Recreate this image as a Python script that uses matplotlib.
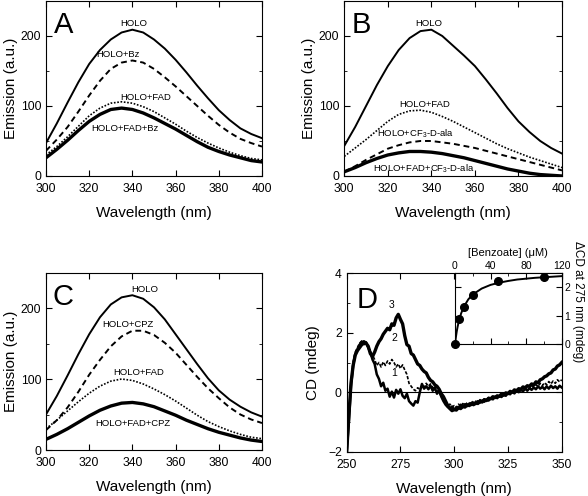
import numpy as np
import matplotlib
matplotlib.use("Agg")
from matplotlib import pyplot as plt
from matplotlib.ticker import MultipleLocator

plt.rcParams['font.family'] = ['Liberation Sans', 'DejaVu Sans']
plt.rcParams['mathtext.default'] = 'regular'

# emission spectra, wavelength 300..400 every 5 nm
wl = list(range(300, 405, 5))

a_holo = [47, 75, 105, 134, 160, 180, 195, 205, 209, 205, 195, 182, 166, 148, 129, 111, 94, 80, 68, 60, 54]
a_bz = [36, 52, 70, 92, 115, 136, 153, 162, 165, 162, 153, 141, 128, 114, 100, 86, 73, 62, 53, 47, 42]
a_fad = [30, 42, 56, 71, 86, 97, 104, 106, 104, 99, 92, 83, 74, 64, 55, 47, 40, 34, 29, 25, 23]
a_fad_bz = [26, 38, 51, 65, 78, 88, 95, 97, 95, 90, 83, 75, 67, 58, 49, 41, 35, 30, 26, 22, 20]

b_holo = [43, 70, 100, 130, 157, 180, 197, 207, 209, 200, 186, 172, 157, 138, 118, 97, 78, 63, 50, 40, 32]
b_fad = [28, 40, 52, 65, 78, 88, 93, 94, 91, 85, 78, 70, 62, 54, 46, 39, 33, 27, 22, 17, 12]
b_cf3 = [6, 14, 23, 31, 39, 44, 48, 50, 50, 48, 46, 43, 40, 36, 32, 28, 24, 20, 16, 12, 8]
b_fad_cf3 = [6, 12, 19, 25, 30, 33, 35, 35, 34, 32, 29, 26, 22, 18, 14, 10, 7, 4, 2, 1, 0]

c_holo = [50, 76, 105, 135, 163, 187, 205, 215, 218, 213, 201, 184, 163, 142, 121, 101, 84, 71, 61, 53, 47]
c_cpz = [28, 42, 60, 82, 106, 127, 146, 160, 168, 168, 162, 151, 137, 120, 103, 87, 73, 60, 50, 43, 38]
c_fad = [30, 42, 55, 68, 80, 90, 97, 100, 98, 93, 86, 78, 69, 59, 49, 40, 33, 27, 22, 18, 16]
c_fad_cpz = [15, 22, 30, 39, 48, 56, 62, 66, 67, 65, 61, 55, 49, 42, 36, 30, 25, 21, 17, 14, 12]

# CD spectra, 250..350 every 1 nm
cd_wl = list(range(250, 351))
cd1 = [-2.0, -1.0, 0.2, 0.9, 1.3, 1.45, 1.6, 1.7, 1.62, 1.68,
       1.5, 1.35, 1.1, 0.95, 0.6, 0.45, 0.2, 0.32, 0.05, 0.12,
       -0.15, 0.02, -0.18, 0.08, -0.05, 0.1, -0.12, -0.2, -0.05, -0.3,
       -0.38, -0.45, -0.3, -0.35, 0.0, 0.28, 0.12, 0.2, 0.1, 0.22,
       0.05, 0.15, -0.05, 0.05, -0.15, -0.3, -0.42, -0.5, -0.55, -0.48,
       -0.6, -0.5, -0.55, -0.42, -0.5, -0.4, -0.47, -0.38, -0.43, -0.35,
       -0.4, -0.3, -0.35, -0.28, -0.32, -0.25, -0.28, -0.2, -0.24, -0.15,
       -0.2, -0.12, -0.16, -0.08, -0.12, -0.02, -0.07, 0.02, -0.04, 0.06,
       0.0, 0.08, 0.03, 0.12, 0.05, 0.14, 0.08, 0.16, 0.1, 0.2,
       0.12, 0.18, 0.1, 0.2, 0.12, 0.22, 0.14, 0.2, 0.12, 0.22,
       0.16]
cd2 = [-2.0, -0.9, 0.3, 1.0, 1.35, 1.5, 1.65, 1.72, 1.6, 1.65,
       1.5, 1.4, 1.25, 1.1, 0.9, 1.0, 0.85, 1.02, 0.9, 1.05,
       0.95, 1.1, 1.0, 0.85, 0.95, 0.8, 0.92, 0.75, 0.6, 0.3,
       0.2, 0.1, 0.05, 0.15, 0.1, 0.22, 0.15, 0.3, 0.2, 0.28,
       0.15, 0.22, 0.05, 0.0, -0.15, -0.28, -0.35, -0.45, -0.4, -0.5,
       -0.45, -0.52, -0.4, -0.48, -0.38, -0.44, -0.35, -0.4, -0.3, -0.36,
       -0.3, -0.34, -0.25, -0.3, -0.22, -0.26, -0.18, -0.22, -0.12, -0.17,
       -0.1, -0.14, -0.05, -0.1, -0.02, -0.06, 0.04, 0.0, 0.1, 0.05,
       0.14, 0.08, 0.18, 0.1, 0.2, 0.14, 0.24, 0.16, 0.26, 0.2,
       0.3, 0.22, 0.32, 0.25, 0.36, 0.28, 0.38, 0.3, 0.42, 0.35,
       0.42]
cd3 = [-2.0, -0.8, 0.3, 0.9, 1.25, 1.4, 1.5, 1.6, 1.7, 1.65,
       1.55, 1.3, 1.2, 1.35, 1.55, 1.7, 1.8, 1.95, 2.05, 2.15,
       2.1, 2.3, 2.25, 2.5, 2.62, 2.45, 2.3, 1.9, 1.6, 1.55,
       1.3, 1.25, 1.1, 0.95, 0.9, 0.78, 0.7, 0.65, 0.5, 0.4,
       0.35, 0.25, 0.2, 0.1, -0.05, -0.15, -0.3, -0.45, -0.55, -0.62,
       -0.58, -0.6, -0.52, -0.55, -0.48, -0.5, -0.42, -0.45, -0.38, -0.42,
       -0.35, -0.38, -0.3, -0.33, -0.25, -0.28, -0.2, -0.22, -0.15, -0.18,
       -0.12, -0.14, -0.06, -0.1, -0.02, -0.05, 0.03, 0.0, 0.08, 0.05,
       0.12, 0.1, 0.18, 0.15, 0.22, 0.2, 0.28, 0.25, 0.35, 0.32,
       0.42, 0.45, 0.52, 0.55, 0.62, 0.65, 0.75, 0.78, 0.88, 0.92,
       1.0]

# inset: benzoate titration
benz = [0, 5, 10, 20, 48, 100]
dcd = [0.0, 0.88, 1.32, 1.73, 2.24, 2.36]
fit_x = [0, 1, 2, 3, 5, 7, 10, 15, 20, 30, 40, 50, 60, 70, 80, 90, 100, 110, 120]
fit_y = [0, 0.24, 0.45, 0.62, 0.89, 1.09, 1.32, 1.58, 1.75, 1.96, 2.09, 2.17, 2.23, 2.28, 2.31, 2.34, 2.36, 2.38, 2.40]

fig = plt.figure(figsize=(5.88, 4.96), dpi=100)

def style(ax, fs=8.7):
    ax.tick_params(which='both', direction='in', top=True, right=True, labelsize=fs)
    ax.tick_params(which='major', length=4)
    ax.tick_params(which='minor', length=2.5)
    ax.tick_params(axis='x', pad=5)
    for s in ax.spines.values():
        s.set_linewidth(0.8)

solid = dict(color='k', lw=1.4)
thick = dict(color='k', lw=2.4)
dash = dict(color='k', lw=1.4, dashes=(3, 2))
dot = dict(color='k', lw=1.2, dashes=(1, 1))

def emission_axes(rect, letter):
    ax = fig.add_axes(rect)
    ax.set_xlim(300, 400)
    ax.set_ylim(0, 250)
    ax.xaxis.set_major_locator(MultipleLocator(20))
    ax.yaxis.set_major_locator(MultipleLocator(100))
    ax.yaxis.set_minor_locator(MultipleLocator(50))
    style(ax)
    ax.set_xlabel('Wavelength (nm)', fontsize=11, labelpad=8)
    ax.set_ylabel('Emission (a.u.)', fontsize=11, labelpad=2)
    ax.text(308, 216, letter, fontsize=21, ha='center', va='center')
    return ax

tfs = 6.8

# A
ax = emission_axes([0.0782, 0.6452, 0.3674, 0.3528], 'A')
ax.plot(wl, a_holo, **solid)
ax.plot(wl, a_bz, **dash)
ax.plot(wl, a_fad, **dot)
ax.plot(wl, a_fad_bz, **thick)
ax.text(340.4, 218, 'HOLO', fontsize=tfs, ha='center', va='center')
ax.text(333.5, 173, 'HOLO+Bz', fontsize=tfs, ha='center', va='center')
ax.text(346, 112, 'HOLO+FAD', fontsize=tfs, ha='center', va='center')
ax.text(336.6, 68, 'HOLO+FAD+Bz', fontsize=tfs, ha='center', va='center')

# B
ax = emission_axes([0.5855, 0.6452, 0.3703, 0.3528], 'B')
ax.plot(wl, b_holo, **solid)
ax.plot(wl, b_fad, **dot)
ax.plot(wl, b_cf3, **dash)
ax.plot(wl, b_fad_cf3, **thick)
ax.text(338.6, 218, 'HOLO', fontsize=tfs, ha='center', va='center')
ax.text(337, 102, 'HOLO+FAD', fontsize=tfs, ha='center', va='center')
ax.text(332.5, 61, 'HOLO+CF$_3$-D-ala', fontsize=tfs, ha='center', va='center')
ax.text(336.3, 11, 'HOLO+FAD+CF$_3$-D-ala', fontsize=tfs, ha='center', va='center')

# C
ax = emission_axes([0.0782, 0.0927, 0.3674, 0.3579], 'C')
ax.plot(wl, c_holo, **solid)
ax.plot(wl, c_cpz, **dash)
ax.plot(wl, c_fad, **dot)
ax.plot(wl, c_fad_cpz, **thick)
ax.text(345.8, 226, 'HOLO', fontsize=tfs, ha='center', va='center')
ax.text(338.1, 177, 'HOLO+CPZ', fontsize=tfs, ha='center', va='center')
ax.text(342.7, 109, 'HOLO+FAD', fontsize=tfs, ha='center', va='center')
ax.text(340.1, 38, 'HOLO+FAD+CPZ', fontsize=tfs, ha='center', va='center')

# D
ax = fig.add_axes([0.5896, 0.0893, 0.3657, 0.3597])
ax.set_xlim(250, 350)
ax.set_ylim(-2, 4)
ax.xaxis.set_major_locator(MultipleLocator(25))
ax.yaxis.set_major_locator(MultipleLocator(2))
ax.yaxis.set_minor_locator(MultipleLocator(1))
style(ax)
ax.axhline(0, color='k', lw=0.8)
ax.plot(cd_wl, cd1, color='k', lw=1.8)
ax.plot(cd_wl, cd3, color='k', lw=2.4)
ax.plot(cd_wl, cd2, color='k', lw=1.2, dashes=(2, 1))
ax.set_xlabel('Wavelength (nm)', fontsize=11, labelpad=8)
ax.set_ylabel('CD (mdeg)', fontsize=11, labelpad=6)
ax.text(259.3, 3.1, 'D', fontsize=21, ha='center', va='center')
ax.text(271, 2.93, '3', fontsize=7.5, ha='center', va='center')
ax.text(272, 1.82, '2', fontsize=7.5, ha='center', va='center')
ax.text(272, 0.66, '1', fontsize=7.5, ha='center', va='center')

# inset
ins = fig.add_axes([0.7738, 0.3065, 0.1815, 0.1425])
ins.set_xlim(0, 120)
ins.set_ylim(0, 2.5)
ins.xaxis.set_major_locator(MultipleLocator(40))
ins.xaxis.set_minor_locator(MultipleLocator(20))
ins.yaxis.set_major_locator(MultipleLocator(1))
style(ins, fs=7.5)
ins.tick_params(which='both', labelbottom=False, labelleft=False, labeltop=True, labelright=True, pad=2)
ins.plot(fit_x, fit_y, color='k', lw=1.4)
ins.plot(benz, dcd, 'o', color='k', ms=5.5, clip_on=False)
ins.xaxis.set_label_position('top')
ins.yaxis.set_label_position('right')
ins.set_xlabel('[Benzoate] (\u03bcM)', fontsize=8, labelpad=3)
ins.set_ylabel('\u0394CD at 275 nm (mdeg)', fontsize=8.5, rotation=-90, labelpad=10, y=0.6)

fig.savefig('out.png', dpi=100)
